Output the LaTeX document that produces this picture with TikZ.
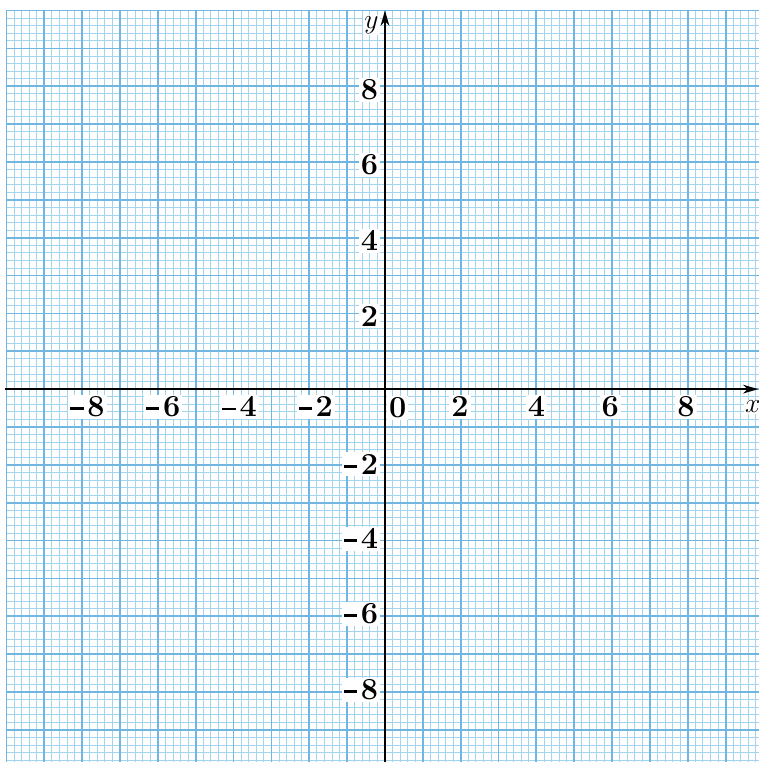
\documentclass[tikz,border=0pt]{standalone}
\usetikzlibrary{arrows.meta}
\definecolor{gridfine}{RGB}{162,212,238}
\definecolor{gridmajor}{RGB}{112,182,224}
\newcommand{\negsign}{\rule[0.22em]{0.44em}{0.09em}\kern0.12em}
\tikzset{
  finegrid/.style={gridfine, line width=0.7pt},
  majorgrid/.style={gridmajor, line width=1.35pt},
  axisline/.style={black, line width=1.4pt, -{Stealth[length=4mm,width=2.3mm,inset=1.2mm]}},
  num/.style={font=\fontsize{23}{26}\selectfont\bfseries, fill=white, inner sep=1.5pt},
  varlabel/.style={font=\fontsize{22}{25}\selectfont, fill=white, inner sep=1pt},
}
\begin{document}
\begin{tikzpicture}
\useasboundingbox (-10.17,-9.85) rectangle (9.88,10.28);
\fill[white] (-10.17,-9.85) rectangle (9.88,10.28);
\begin{scope}
  \clip (-10.17,-9.85) rectangle (9.88,10.28);
  \foreach \i in {-50,...,50} {
    \draw[finegrid] (\i/5,-10) -- (\i/5,10);
    \draw[finegrid] (-10,\i/5) -- (10,\i/5);
  }
  \foreach \i in {-10,...,10} {
    \draw[majorgrid] (\i,-10) -- (\i,10);
    \draw[majorgrid] (-10,\i) -- (10,\i);
  }
\end{scope}

% axes
\coordinate (xs) at (-10.05,0);
\coordinate (xe) at (9.86,0);
\coordinate (ys) at (0,-9.9);
\coordinate (ye) at (0,10.0);
\draw[axisline] (xs) -- (xe);
\draw[axisline] (ys) -- (ye);

% axis names
\node[varlabel] (xname) at (9.72,-0.47) {$x$};
\node[varlabel] (yname) at (-0.36,9.62) {$y$};

% x-axis numbers
\node[num] (xm8) at (-7.86,-0.47) {\negsign 8};
\node[num] (xm6) at (-5.86,-0.47) {\negsign 6};
\node[num] (xm4) at (-3.84,-0.47) {\negsign 4};
\node[num] (xm2) at (-1.83,-0.47) {\negsign 2};
\node[num] (x0) at (0.34,-0.5) {0};
\node[num] (xp2) at (1.98,-0.47) {2};
\node[num] (xp4) at (4.0,-0.47) {4};
\node[num] (xp6) at (5.95,-0.47) {6};
\node[num] (xp8) at (7.95,-0.47) {8};

% y-axis numbers
\node[num, anchor=east] (yp8) at (-0.12,7.9) {8};
\node[num, anchor=east] (yp6) at (-0.12,5.92) {6};
\node[num, anchor=east] (yp4) at (-0.12,3.92) {4};
\node[num, anchor=east] (yp2) at (-0.12,1.93) {2};
\node[num, anchor=east] (ym2) at (-0.12,-1.99) {\negsign 2};
\node[num, anchor=east] (ym4) at (-0.12,-3.95) {\negsign 4};
\node[num, anchor=east] (ym6) at (-0.12,-5.94) {\negsign 6};
\node[num, anchor=east] (ym8) at (-0.12,-7.95) {\negsign 8};
\end{tikzpicture}
\end{document}
